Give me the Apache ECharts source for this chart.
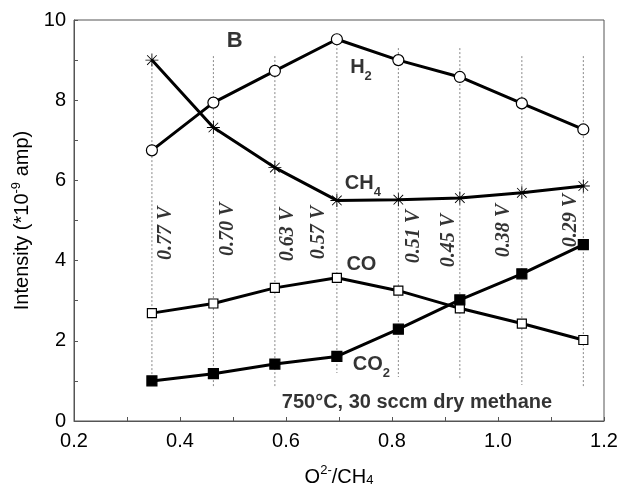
<!DOCTYPE html>
<html>
<head>
<meta charset="utf-8">
<script src="https://cdn.jsdelivr.net/npm/echarts@6/dist/echarts.min.js"></script>
<style>html,body{margin:0;padding:0;background:#fff}#c{width:620px;height:487px}</style>
</head>
<body>
<div id="c"></div>
<script>
// ---- data ----
const ratio = [0.347, 0.463, 0.579, 0.696, 0.812, 0.928, 1.045, 1.161];
const h2  = [6.75, 7.94, 8.73, 9.52, 9.00, 8.58, 7.92, 7.27];
const ch4 = [9.00, 7.32, 6.32, 5.50, 5.52, 5.56, 5.69, 5.86];
const co  = [2.69, 2.93, 3.32, 3.57, 3.25, 2.81, 2.43, 2.02];
const co2 = [1.00, 1.18, 1.42, 1.61, 2.29, 3.02, 3.67, 4.40];
const voltages = ['0.77 V', '0.70 V', '0.63 V', '0.57 V', '0.51 V', '0.45 V', '0.38 V', '0.29 V'];
const dropTop    = [9.0, 9.1, 9.1, 9.5, 9.3, 9.3, 9.1, 9.1];
const dropBottom = [0.9, 0.85, 0.85, 1.2, 1.1, 1.05, 0.9, 0.85];
const xTicks = [0.2, 0.4, 0.6, 0.8, 1.0, 1.2];
const yTicks = [0, 2, 4, 6, 8, 10];

// ---- annotation anchors (data coords) ----
const voltageAnchor = [[0.374, 4.68], [0.491, 4.78], [0.604, 4.65], [0.662, 4.70], [0.842, 4.60], [0.908, 4.50], [1.011, 4.75], [1.138, 5.00]];
const speciesLabels = [
  {text: '{m|H}{s|2}', at: [0.721, 8.75]},
  {text: '{m|CH}{s|4}', at: [0.711, 5.85]},
  {text: '{m|CO}', at: [0.714, 3.82]},
  {text: '{m|CO}{s|2}', at: [0.726, 1.34]},
  {text: '{b|B}', at: [0.488, 9.48]},
  {text: '{n|750°C, 30 sccm dry methane}', at: [0.592, 0.46]}
];

const chart = echarts.init(document.getElementById('c'), null, {renderer: 'canvas'});
const AX = '#555';
const asterisk = 'path://M11.2,0 L12.8,0 L12.8,24 L11.2,24 Z M0,11.2 L24,11.2 L24,12.8 L0,12.8 Z M2.6,3.7 L3.7,2.6 L21.4,20.3 L20.3,21.4 Z M20.3,2.6 L21.4,3.7 L3.7,21.4 L2.6,20.3 Z';

const series = [];
ratio.forEach((x, i) => {
  series.push({
    type: 'line', silent: true, symbol: 'none', z: 1,
    data: [[x, dropTop[i]], [x, dropBottom[i]]],
    lineStyle: {color: '#888', width: 1, type: [2, 2]}
  });
});
function mainSeries(vals, symbol, size, fill) {
  return {
    type: 'line', z: 5, symbol: symbol, symbolSize: size, symbolKeepAspect: true,
    data: ratio.map((x, i) => [x, vals[i]]),
    lineStyle: {color: '#000', width: 3},
    itemStyle: {color: fill, borderColor: '#000', borderWidth: 1.2}
  };
}
series.push(mainSeries(h2, 'circle', 11, '#fff'));
const chS = mainSeries(ch4, asterisk, 13, '#000');
chS.itemStyle = {color: '#000', borderWidth: 0};
series.push(chS);
series.push(mainSeries(co, 'rect', 9, '#fff'));
series.push(mainSeries(co2, 'rect', 10, '#000'));

series.push({
  type: 'scatter', symbolSize: 0, z: 6, silent: true,
  data: voltageAnchor.map((p, i) => ({value: p, name: voltages[i]})),
  label: {
    show: true, position: 'inside', rotate: 90, formatter: p => p.name,
    fontFamily: 'Liberation Serif', fontWeight: 'bold', fontStyle: 'italic', fontSize: 20, color: '#000'
  }
});
series.push({
  type: 'scatter', symbolSize: 0, z: 6, silent: true,
  data: speciesLabels.map(o => ({value: o.at, name: o.text})),
  label: {
    show: true, position: 'right', distance: 0, formatter: p => p.name, color: '#000',
    rich: {
      m: {fontFamily: 'Liberation Sans', fontWeight: 'bold', fontSize: 20, padding: [0, 0, 6, 0], verticalAlign: 'bottom'},
      s: {fontFamily: 'Liberation Sans', fontWeight: 'bold', fontSize: 13, verticalAlign: 'bottom'},
      b: {fontFamily: 'Liberation Sans', fontWeight: 'bold', fontSize: 22},
      n: {fontFamily: 'Liberation Sans', fontWeight: 'bold', fontSize: 20}
    }
  }
});

chart.setOption({
  animation: false,
  backgroundColor: '#fff',
  grid: {left: 74, top: 20, right: 16, bottom: 66, containLabel: false, outerBoundsMode: 'none',
         show: true, borderColor: AX, borderWidth: 1, backgroundColor: 'transparent'},
  xAxis: {
    type: 'value', min: xTicks[0], max: xTicks[xTicks.length - 1], interval: 0.2,
    axisLine: {show: true, onZero: false, lineStyle: {color: AX, width: 1}},
    axisTick: {show: true, inside: true, length: 4, lineStyle: {color: AX}},
    minorTick: {show: true, splitNumber: 2, length: 4, lineStyle: {color: AX}},
    splitLine: {show: false},
    axisLabel: {fontFamily: 'Liberation Sans', fontSize: 20, color: '#000', margin: 10, formatter: v => v.toFixed(1)},
    name: '{a|O}{p|2-}{a|/CH}{q|4}', nameLocation: 'middle', nameGap: 43,
    nameTextStyle: {rich: {
      a: {fontFamily: 'Liberation Sans', fontSize: 20, color: '#000', padding: [0, 0, 0, 0], verticalAlign: 'bottom'},
      p: {fontFamily: 'Liberation Sans', fontSize: 13, color: '#000', padding: [0, 0, 10, 0], verticalAlign: 'bottom'},
      q: {fontFamily: 'Liberation Sans', fontSize: 13, color: '#000', padding: [0, 0, 0, 0], verticalAlign: 'bottom'}
    }}
  },
  yAxis: {
    type: 'value', min: yTicks[0], max: yTicks[yTicks.length - 1], interval: 2,
    axisLine: {show: true, lineStyle: {color: AX, width: 1}},
    axisTick: {show: true, inside: true, length: 4, lineStyle: {color: AX}},
    minorTick: {show: true, splitNumber: 2, length: 4, lineStyle: {color: AX}},
    splitLine: {show: false},
    axisLabel: {fontFamily: 'Liberation Sans', fontSize: 20, color: '#000', margin: 8},
    name: '{a|Intensity (*10}{p|-9}{a| amp)}', nameLocation: 'middle', nameGap: 34,
    nameTextStyle: {rich: {
      a: {fontFamily: 'Liberation Sans', fontSize: 20, color: '#000', verticalAlign: 'bottom'},
      p: {fontFamily: 'Liberation Sans', fontSize: 13, color: '#000', padding: [0, 0, 10, 0], verticalAlign: 'bottom'}
    }}
  },
  series: series
});
</script>
</body>
</html>
